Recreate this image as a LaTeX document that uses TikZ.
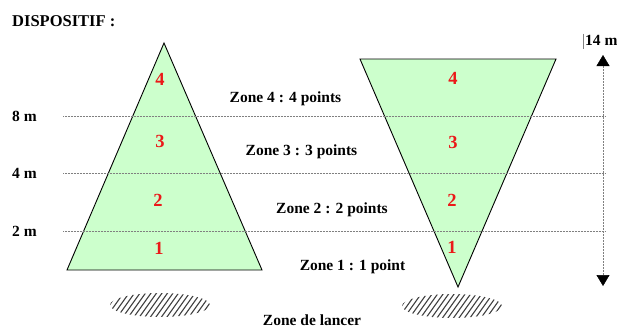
\documentclass[tikz,border=0pt]{standalone}
\usepackage{fontspec}
\setmainfont{Liberation Serif}
\usepackage{xcolor}
\usetikzlibrary{positioning, arrows.meta}
\definecolor{zonegreen}{RGB}{204,255,204}
\definecolor{zonered}{RGB}{235,25,25}

\begin{document}
\begin{tikzpicture}[x=1pt, y=-1pt,
    lbl/.style={font=\fontsize{15.5}{18}\selectfont\bfseries, inner sep=0pt},
    num/.style={font=\fontsize{18.5}{20}\selectfont\bfseries, text=zonered, inner sep=0pt},
    zone/.style={draw, line width=0.9pt, fill=zonegreen},
    guide/.style={gray, densely dotted, line width=0.5pt},
    hatch/.style={line width=1.1pt, black!75},
    arr/.style={{Triangle[width=13pt, length=11pt, color=black]}-{Triangle[width=13pt, length=11pt, color=black]}, guide}
  ]
  \useasboundingbox (0,0) rectangle (617,327);

  \node[lbl, anchor=west, font=\fontsize{16.5}{18}\selectfont\bfseries] (title) at (12,21) {DISPOSITIF :};

  % the two target zones
  \coordinate (lapex) at (164,43);
  \coordinate (lleft) at (67,270);
  \coordinate (lright) at (262,270);
  \coordinate (rleft) at (360,59);
  \coordinate (rright) at (556,59);
  \coordinate (rapex) at (458,287);
  \draw[zone] (lapex) -- (lleft) -- (lright) -- cycle;
  \draw[zone] (rleft) -- (rright) -- (rapex) -- cycle;

  % distance marks
  \foreach \y/\h in {116/8, 173/4, 231/2} {
    \node[lbl, anchor=west] (mark\h) at (12,\y) {\h~m};
    \draw[guide] (63,\y) -- (605,\y);
  }

  % zone numbers
  \foreach \x/\y/\n [count=\i] in {160/79/4, 160/141/3, 158/200/2, 159/248/1,
                                   453/78/4, 453/142/3, 452/200/2, 452/247/1}
    \node[num] (num\i) at (\x,\y) {\n};

  \node[lbl, anchor=base] (zfour)  at (285.5,102) {Zone 4 : 4 points};
  \node[lbl, anchor=base] (zthree) at (301.5,155) {Zone 3 : 3 points};
  \node[lbl, anchor=base] (ztwo)   at (332,213)   {Zone 2 : 2 points};
  \node[lbl, anchor=base] (zone)   at (352.5,270) {Zone 1 : 1 point};
  \node[lbl, anchor=base] (throw)  at (312,325)   {Zone de lancer};

  % total length
  \node[lbl, anchor=base west] (len) at (585,45) {14 m};
  \draw[gray, line width=0.6pt] ([xshift=-2pt, yshift=1pt]len.north west) -- ([xshift=-2pt, yshift=-4pt]len.south west);
  \coordinate (top) at (603,55);
  \coordinate (bot) at (603,286);
  \draw[arr] (top) -- (bot);

  % throwing areas
  \coordinate (lthrow) at (160,305);
  \coordinate (rthrow) at (452,306);
  \foreach \c in {lthrow, rthrow} {
    \begin{scope}
      \clip (\c) ellipse [x radius=50, y radius=12];
      \foreach \i in {-78,-72.5,...,78}
        \draw[hatch] ([xshift=\i pt]\c) ++(-10,14) -- ++(20,-28);
    \end{scope}
  }
\end{tikzpicture}
\end{document}
